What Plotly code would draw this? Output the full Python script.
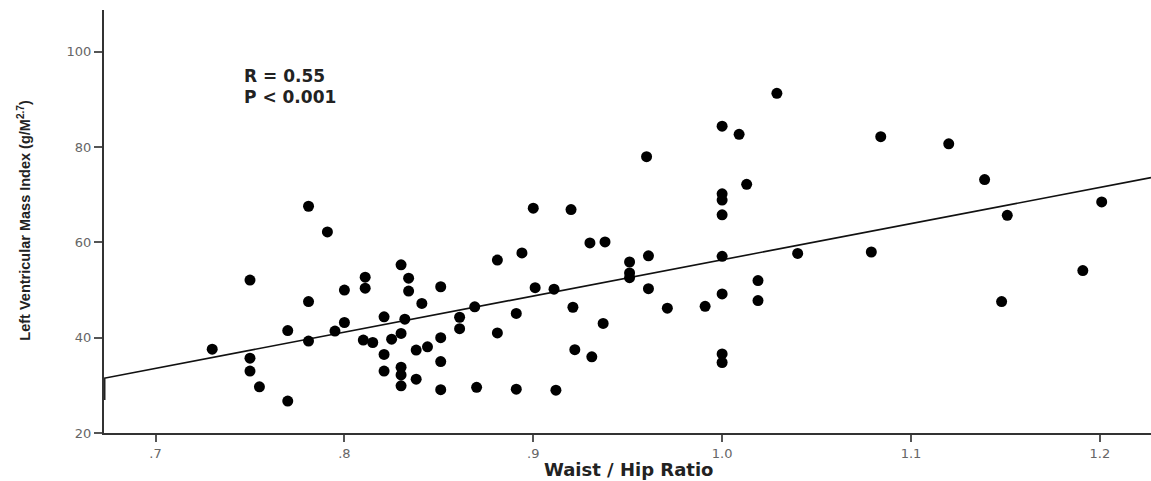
import plotly.graph_objects as go

# Waist / Hip Ratio (x) and Left Ventricular Mass Index (y)
whr = [0.730, 0.750, 0.750, 0.750, 0.755, 0.770, 0.770, 0.781, 0.781, 0.781,
       0.791, 0.795, 0.800, 0.800, 0.811, 0.811, 0.810, 0.815, 0.821, 0.821,
       0.821, 0.825, 0.830, 0.834, 0.834, 0.832, 0.830, 0.830, 0.830, 0.830,
       0.838, 0.838, 0.841, 0.844, 0.851, 0.851, 0.851, 0.851, 0.861, 0.861,
       0.869, 0.870, 0.881, 0.881, 0.891, 0.891, 0.894, 0.900, 0.901, 0.911,
       0.912, 0.920, 0.921, 0.922, 0.930, 0.931, 0.938, 0.937, 0.951, 0.951,
       0.951, 0.960, 0.961, 0.961, 0.971, 0.991, 1.000, 1.000, 1.000, 1.000,
       1.000, 1.000, 1.000, 1.000, 1.009, 1.013, 1.019, 1.019, 1.029, 1.040,
       1.079, 1.084, 1.120, 1.139, 1.151, 1.148, 1.191, 1.201]
lvmi = [37.6, 52.1, 35.7, 33.0, 29.7, 41.5, 26.7, 67.6, 47.6, 39.3,
        62.2, 41.4, 50.0, 43.2, 52.7, 50.4, 39.5, 39.0, 44.4, 36.5,
        33.0, 39.7, 55.3, 52.5, 49.8, 43.9, 40.9, 33.8, 32.2, 29.9,
        37.4, 31.3, 47.2, 38.1, 50.7, 40.0, 35.0, 29.1, 44.3, 41.9,
        46.5, 29.6, 56.3, 41.0, 45.1, 29.2, 57.8, 67.2, 50.5, 50.2,
        29.0, 66.9, 46.4, 37.5, 59.9, 36.0, 60.1, 43.0, 55.9, 53.6,
        52.6, 78.0, 57.2, 50.3, 46.2, 46.6, 84.4, 70.2, 68.9, 65.8,
        57.1, 49.2, 36.6, 34.8, 82.7, 72.2, 52.0, 47.8, 91.3, 57.7,
        58.0, 82.2, 80.7, 73.2, 65.7, 47.6, 54.1, 68.5]

# Regression line coefficients
fit_slope = 75.95
fit_intercept = -19.59

x_range = [0.6727, 1.2271]
y_range = [20, 108.8]

x_tickvals = [0.7, 0.8, 0.9, 1.0, 1.1, 1.2]
x_ticktext = [".7", ".8", ".9", "1.0", "1.1", "1.2"]
y_tickvals = [20, 40, 60, 80, 100]
y_ticktext = ["20", "40", "60", "80", "100"]

stats_text = ["R = 0.55", "P < 0.001"]
x_title = "Waist / Hip Ratio"
y_title = "Left Ventricular Mass Index (g/M<sup>2.7</sup>)"

fig = go.Figure()

fit_y = [fit_slope * xv + fit_intercept for xv in x_range]
fig.add_trace(go.Scatter(x=x_range, y=fit_y, mode="lines",
                         line=dict(color="#111111", width=1.6),
                         hoverinfo="skip", showlegend=False, cliponaxis=False))

fig.add_trace(go.Scatter(x=whr, y=lvmi, mode="markers",
                         marker=dict(color="black", size=11, symbol="circle",
                                     line=dict(width=0)),
                         showlegend=False))

# small thick stub on the y axis below the fit line start
fig.add_shape(type="line", xref="x", yref="y",
              x0=x_range[0], x1=x_range[0],
              y0=fit_y[0] - 4.6, y1=fit_y[0],
              line=dict(color="#222222", width=3))

for txt, yv in zip(stats_text, [94.9, 90.6]):
    fig.add_annotation(x=0.7458, y=yv, xref="x", yref="y", text=f"<b>{txt}</b>",
                       showarrow=False, xanchor="left", yanchor="middle",
                       font=dict(family="DejaVu Sans, sans-serif",
                                 size=17, color="#222222"))

fig.add_annotation(x=0.5014, y=-0.0853, xref="paper", yref="paper",
                   text=f"<b>{x_title}</b>", showarrow=False,
                   xanchor="center", yanchor="middle",
                   font=dict(family="DejaVu Sans, sans-serif",
                             size=18, color="#222222"))
fig.add_annotation(x=-0.0764, y=0.502, xref="paper", yref="paper",
                   text=f"<b>{y_title}</b>", showarrow=False, textangle=-90,
                   xanchor="center", yanchor="middle",
                   font=dict(family="Liberation Sans Narrow, Liberation Sans, sans-serif",
                             size=14.5, color="#222222"))

tick_font = dict(family="DejaVu Sans, sans-serif", size=13, color="#666666")

fig.update_layout(
    width=1151, height=481,
    margin=dict(l=104, r=0, t=10, b=48, autoexpand=False),
    paper_bgcolor="white", plot_bgcolor="white",
    xaxis=dict(range=x_range, tickvals=x_tickvals, ticktext=x_ticktext,
               automargin=False,
               showgrid=False, zeroline=False, showline=True,
               linecolor="#333333", linewidth=2,
               ticks="outside", ticklen=7, tickwidth=1.5, tickcolor="#555555",
               tickfont=tick_font),
    yaxis=dict(range=y_range, tickvals=y_tickvals, ticktext=y_ticktext,
               automargin=False,
               showgrid=False, zeroline=False, showline=True,
               linecolor="#333333", linewidth=2,
               ticks="outside", ticklen=8, tickwidth=1.5, tickcolor="#555555",
               tickfont=tick_font),
)

fig.write_html("out.html",
               config={"displayModeBar": False},
               post_script="document.body.style.margin='0px';"
                           "document.body.style.overflow='hidden';")
